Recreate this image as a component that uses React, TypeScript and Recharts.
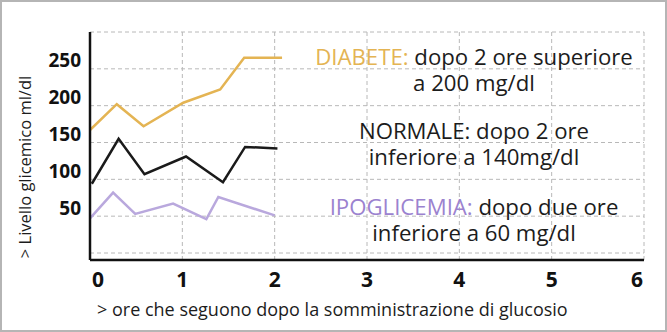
import React from 'react';
import { LineChart, Line, XAxis, YAxis, CartesianGrid } from 'recharts';

// hours after glucose intake, blood glucose mg/dl
const diabete = [
  { x: 0, y: 167 },
  { x: 0.29, y: 202 },
  { x: 0.58, y: 172 },
  { x: 1.01, y: 204 },
  { x: 1.41, y: 222 },
  { x: 1.67, y: 265 },
  { x: 2.08, y: 265 },
];

const normale = [
  { x: 0.02, y: 94 },
  { x: 0.31, y: 155 },
  { x: 0.59, y: 107 },
  { x: 1.04, y: 131 },
  { x: 1.44, y: 96 },
  { x: 1.68, y: 144 },
  { x: 2.03, y: 142 },
];

const ipoglicemia = [
  { x: 0, y: 47 },
  { x: 0.25, y: 82 },
  { x: 0.49, y: 53 },
  { x: 0.9, y: 67 },
  { x: 1.26, y: 46 },
  { x: 1.39, y: 76 },
  { x: 2.0, y: 51 },
];

const xTicks = [0, 1, 2, 3, 4, 5, 6];
const yTicks = [0, 50, 100, 150, 200, 250, 300];
const yLabelled = [50, 100, 150, 200, 250];

const GOLD = '#e4b453';
const LAVENDER = '#b9a8dd';
const PURPLE_TEXT = '#9b82cf';
const FONT = '"Open Sans", "Noto Sans", sans-serif';

const XTick = (props: any) => {
  const { x, y, payload } = props;
  let dx = 0;
  if (payload.value === 0) dx = 8;
  if (payload.value === 6) dx = -7;
  return (
    <text x={x + dx} y={y + 19} textAnchor="middle" fontSize={21} fontWeight={700} fill="#111" fontFamily={FONT}>
      {payload.value}
    </text>
  );
};

const YTick = (props: any) => {
  const { x, y, payload } = props;
  if (!yLabelled.includes(payload.value)) return null;
  return (
    <text x={x - 1} y={y - 8} dy="0.35em" textAnchor="end" fontSize={19} fontWeight={700} fill="#111" fontFamily={FONT}>
      {payload.value}
    </text>
  );
};

const noteStyle: React.CSSProperties = {
  position: 'absolute',
  left: 290,
  width: 364,
  textAlign: 'center',
  fontFamily: FONT,
  fontSize: 22.2,
  lineHeight: '26px',
  color: '#1c1c1c',
};

export default function App() {
  return (
    <div
      style={{
        position: 'absolute',
        left: 0,
        top: 0,
        width: 667,
        height: 332,
        background: '#fff',
        boxSizing: 'border-box',
        border: '2px solid #b5b5b5',
        overflow: 'hidden',
      }}
    >
      <div style={{ position: 'absolute', left: -2, top: -2 }}>
        <LineChart width={667} height={332} margin={{ top: 32, right: 23, left: 60, bottom: 42 }}>
          <CartesianGrid stroke="#b8b8b8" strokeDasharray="4 3" />
          <XAxis
            type="number"
            dataKey="x"
            domain={[0, 6]}
            ticks={xTicks}
            height={30}
            tick={<XTick />}
            tickLine={false}
            axisLine={{ stroke: '#111', strokeWidth: 2.5 }}
            interval={0}
          />
          <YAxis
            type="number"
            dataKey="y"
            domain={[-9.5, 300]}
            ticks={yTicks}
            width={30}
            tick={<YTick />}
            tickLine={false}
            axisLine={{ stroke: '#111', strokeWidth: 2.5 }}
            interval={0}
          />
          <Line data={diabete} dataKey="y" stroke={GOLD} strokeWidth={2.5} dot={false} isAnimationActive={false} type="linear" />
          <Line data={normale} dataKey="y" stroke="#1a1a1a" strokeWidth={2.5} dot={false} isAnimationActive={false} type="linear" />
          <Line data={ipoglicemia} dataKey="y" stroke={LAVENDER} strokeWidth={2.5} dot={false} isAnimationActive={false} type="linear" />
        </LineChart>
      </div>

      <div style={{ ...noteStyle, top: 42 }}>
        <span style={{ color: GOLD }}>DIABETE:</span> dopo 2 ore superiore
        <br />a 200 mg/dl
      </div>
      <div style={{ ...noteStyle, top: 116 }}>
        NORMALE: dopo 2 ore
        <br />inferiore a 140mg/dl
      </div>
      <div style={{ ...noteStyle, top: 192 }}>
        <span style={{ color: PURPLE_TEXT }}>IPOGLICEMIA:</span> dopo due ore
        <br />inferiore a 60 mg/dl
      </div>

      <div
        style={{
          position: 'absolute',
          left: 22,
          top: 165,
          transform: 'translate(-50%, -50%) rotate(-90deg)',
          whiteSpace: 'nowrap',
          fontFamily: FONT,
          fontSize: 16.5,
          color: '#1c1c1c',
        }}
      >
        &gt; Livello glicemico ml/dl
      </div>
      <div
        style={{
          position: 'absolute',
          left: 95,
          top: 295,
          whiteSpace: 'nowrap',
          fontFamily: FONT,
          fontSize: 18,
          color: '#1c1c1c',
        }}
      >
        &gt; ore che seguono dopo la somministrazione di glucosio
      </div>
    </div>
  );
}
